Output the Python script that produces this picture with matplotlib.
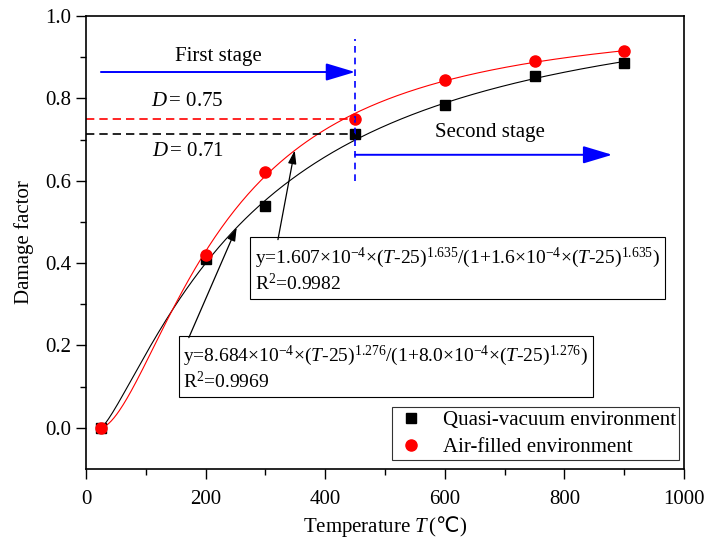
import numpy as np
import matplotlib.pyplot as plt

plt.rcParams['font.family'] = ['Liberation Serif', 'DejaVu Sans']
plt.rcParams['mathtext.fontset'] = 'custom'
plt.rcParams['mathtext.rm'] = 'Liberation Serif'
plt.rcParams['mathtext.it'] = 'Liberation Serif:italic'
plt.rcParams['mathtext.sf'] = 'DejaVu Sans'

# measured damage factor
T = [25, 200, 300, 450, 600, 750, 900]
D_vac = [0.0, 0.41, 0.538, 0.714, 0.785, 0.855, 0.885]
D_air = [0.0, 0.42, 0.62, 0.75, 0.845, 0.89, 0.915]

# fit parameters y = a*(T-25)^b / (1 + c*(T-25)^b)
fit_vac = (8.684e-4, 1.276, 8.0e-4)
fit_air = (1.607e-4, 1.635, 1.6e-4)
r2_vac = 0.9969
r2_air = 0.9982

def damage(t, a, b, c):
    u = (t - 25)**b
    return a*u/(1 + c*u)

fig = plt.figure(figsize=(7.07, 5.46), dpi=100)
ax = fig.add_axes([0.1216, 0.141, 0.8459, 0.8297])

tt = np.linspace(25, 900, 400)
ax.plot(tt, damage(tt, *fit_vac), color='black', lw=0.8)
ax.plot(tt, damage(tt, *fit_air), color='red', lw=0.8)
ax.plot(T, D_vac, 's', color='black', ms=7, ls='none', label='Quasi-vacuum environment')
ax.plot(T, D_air, 'o', color='red', ms=8, ls='none', label='Air-filled environment')

# stage boundary and threshold lines
ax.plot([450, 450], [0.6, 0.945], color='blue', ls=(0, (4, 3)), lw=1.2)
ax.plot([0, 450], [D_air[3], D_air[3]], color='red', ls=(0, (5, 3)), lw=1.2)
ax.plot([0, 450], [D_vac[3], D_vac[3]], color='black', ls=(0, (5, 3)), lw=1.2)

blue_arrow = dict(arrowstyle='-|>,head_length=1.5,head_width=0.45', color='blue',
                  lw=1.4, mutation_scale=12, shrinkA=0, shrinkB=0)
ax.annotate('', xy=(450, 0.864), xytext=(25, 0.864), arrowprops=blue_arrow)
ax.annotate('', xy=(880, 0.663), xytext=(450, 0.663), arrowprops=blue_arrow)
ax.text(222, 0.902, 'First stage', fontsize=15, ha='center', va='center')
ax.text(675, 0.718, 'Second stage', fontsize=15, ha='center', va='center')
ax.text(170, 0.792, r'$D\,$= %.2f' % D_air[3], fontsize=15, ha='center', va='center')
ax.text(170, 0.672, r'$D\,$= %.2f' % D_vac[3], fontsize=15, ha='center', va='center')

# fit equations
box = dict(boxstyle='square,pad=0.25', fc='white', ec='black', lw=0.8)
black_arrow = dict(arrowstyle='-|>,head_length=0.8,head_width=0.25', color='black',
                   lw=0.9, mutation_scale=10, shrinkA=0, shrinkB=0)
eq_air = ('y=1.607×10$^{-4}$×($T$-25)$^{1.635}$/(1+1.6×10$^{-4}$×($T$-25)$^{1.635}$)\n'
          'R$^{2}$=%.4f' % r2_air)
eq_vac = ('y=8.684×10$^{-4}$×($T$-25)$^{1.276}$/(1+8.0×10$^{-4}$×($T$-25)$^{1.276}$)\n'
          'R$^{2}$=%.4f' % r2_vac)
ax.text(283, 0.384, eq_air, fontsize=14, ha='left', va='center', bbox=box, linespacing=1.2)
ax.text(163, 0.145, eq_vac, fontsize=14, ha='left', va='center', bbox=box, linespacing=1.2)
ax.annotate('', xy=(349, damage(349, *fit_air)), xytext=(321, 0.457), arrowprops=black_arrow)
ax.annotate('', xy=(252, damage(252, *fit_vac)), xytext=(172, 0.219), arrowprops=black_arrow)

ax.set_xlim(0, 1000)
ax.set_ylim(-0.1, 1.0)
ax.set_xticks(np.arange(0, 1001, 200))
ax.set_xticks(np.arange(100, 1000, 200), minor=True)
ax.set_yticks(np.arange(0, 1.01, 0.2))
ax.set_yticks(np.arange(0.1, 1.0, 0.2), minor=True)
ax.yaxis.set_major_formatter(plt.FormatStrFormatter('%.1f'))
ax.tick_params(which='both', direction='out', labelsize=15, width=1)
ax.tick_params(which='major', length=7)
ax.tick_params(which='minor', length=4)
ax.tick_params(axis='x', pad=8)
for s in ax.spines.values():
    s.set_linewidth(1.2)

ax.set_xlabel(r'Temperature $T\,$($\mathsf{℃}$)', fontsize=15, labelpad=4)
ax.set_ylabel('Damage factor', fontsize=15, labelpad=8)

leg = ax.legend(loc='lower right', bbox_to_anchor=(0.992, 0.02), borderaxespad=0,
                fontsize=15, fancybox=False, edgecolor='black', handletextpad=0.8,
                handlelength=1.5, labelspacing=0.35, borderpad=0.15)
leg.get_frame().set_linewidth(0.8)

plt.savefig('out.png', dpi=100)
